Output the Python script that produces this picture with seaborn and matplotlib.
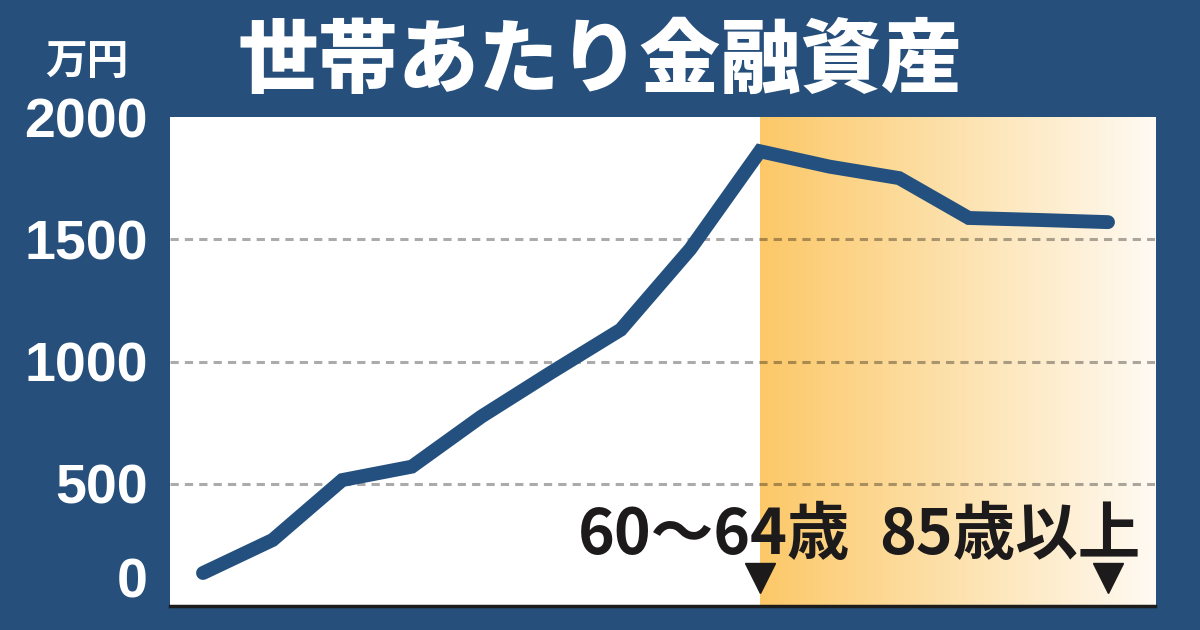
import numpy as np
import pandas as pd
import matplotlib.pyplot as plt
from matplotlib.colors import LinearSegmentedColormap
from matplotlib.transforms import ScaledTranslation, blended_transform_factory
import seaborn as sns

# Age of household head, 5-year bands
age_groups = ['20～24歳', '25～29歳', '30～34歳', '35～39歳', '40～44歳', '45～49歳',
              '50～54歳', '55～59歳', '60～64歳', '65～69歳', '70～74歳', '75～79歳',
              '80～84歳', '85歳以上']
# Financial assets per household (万円)
assets = [135, 270, 515, 570, 775, 955, 1130, 1460, 1860, 1797, 1750, 1587, 1579, 1570]
y_ticks = [0, 500, 1000, 1500, 2000]
marked_groups = ['60～64歳', '85歳以上']

title = '世帯あたり金融資産'
unit = '万円'

navy = '#264f7b'
line_color = '#24507f'
ink = '#1c1a1a'

sns.set_theme(style='white')
plt.rcParams['font.family'] = ['Liberation Sans', 'Noto Sans CJK JP', 'DejaVu Sans']

df = pd.DataFrame({'age': age_groups, 'assets': assets})
df['pos'] = np.arange(len(df))

fig = plt.figure(figsize=(12, 6.3), dpi=100, facecolor=navy)
ax = fig.add_axes([170 / 1200, 24 / 630, 985 / 1200, 489 / 630])
ax.set_facecolor('white')

xlim = (-0.474, 13.675)
ylim = (y_ticks[0], y_ticks[-1])

# Gradient band from 60~64 onward
start = age_groups.index(marked_groups[0])
cmap = LinearSegmentedColormap.from_list('band', ['#fcc868', '#fde2ae', '#fffaf3'])
grad = np.linspace(0, 1, 256).reshape(1, -1)
ax.imshow(grad, extent=(start, xlim[1], ylim[0], ylim[1]), aspect='auto',
          cmap=cmap, zorder=0, interpolation='bilinear')

# Dashed reference lines
for v in y_ticks[1:-1]:
    ax.axhline(v, color='black', alpha=0.33, lw=2.2, dashes=(2.7, 2.0), zorder=1)

sns.lineplot(data=df, x='pos', y='assets', ax=ax, color=line_color, lw=10,
             solid_capstyle='round', solid_joinstyle='miter', zorder=3)

ax.set_xlim(*xlim)
ax.set_ylim(*ylim)
ax.set_xticks([])
ax.set_xlabel('')
ax.set_ylabel('')
ax.set_yticks(y_ticks)
ax.set_yticklabels([str(v) for v in y_ticks], fontsize=40, fontweight='bold',
                   color='white')
ax.tick_params(axis='y', length=0, pad=16)
# lift the "0" label off the bottom edge
lab0 = ax.get_yticklabels()[0]
lab0.set_transform(lab0.get_transform() + ScaledTranslation(0, 0.28, fig.dpi_scale_trans))

for side in ['left', 'top', 'right']:
    ax.spines[side].set_visible(False)
ax.spines['bottom'].set_color('#1c1c1c')
ax.spines['bottom'].set_linewidth(2.5)

# Titles
fig.text(0.5, 1 - 62 / 630, title, color='white', fontsize=58, fontweight='black',
         family=['Noto Sans CJK JP'], ha='center', va='center')
fig.text(87 / 1200, 1 - 62 / 630, unit, color='white', fontsize=30, fontweight='bold',
         family=['Noto Sans CJK JP'], ha='center', va='center')

# Age markers
fig.text(850 / 1200, 1 - 554 / 630, marked_groups[0], color=ink, fontsize=45,
         fontweight='bold', family=['Noto Sans CJK JP'], ha='right', va='baseline')
fig.text(1140 / 1200, 1 - 554 / 630, marked_groups[1], color=ink, fontsize=45,
         fontweight='bold', family=['Noto Sans CJK JP'], ha='right', va='baseline')
trans = blended_transform_factory(ax.transData, fig.transFigure)
for g in marked_groups:
    ax.plot([age_groups.index(g)], [1 - 578 / 630], transform=trans, marker='v',
            markersize=22, color=ink, clip_on=False, zorder=5)

fig.savefig('out.png', dpi=100, facecolor=navy)
